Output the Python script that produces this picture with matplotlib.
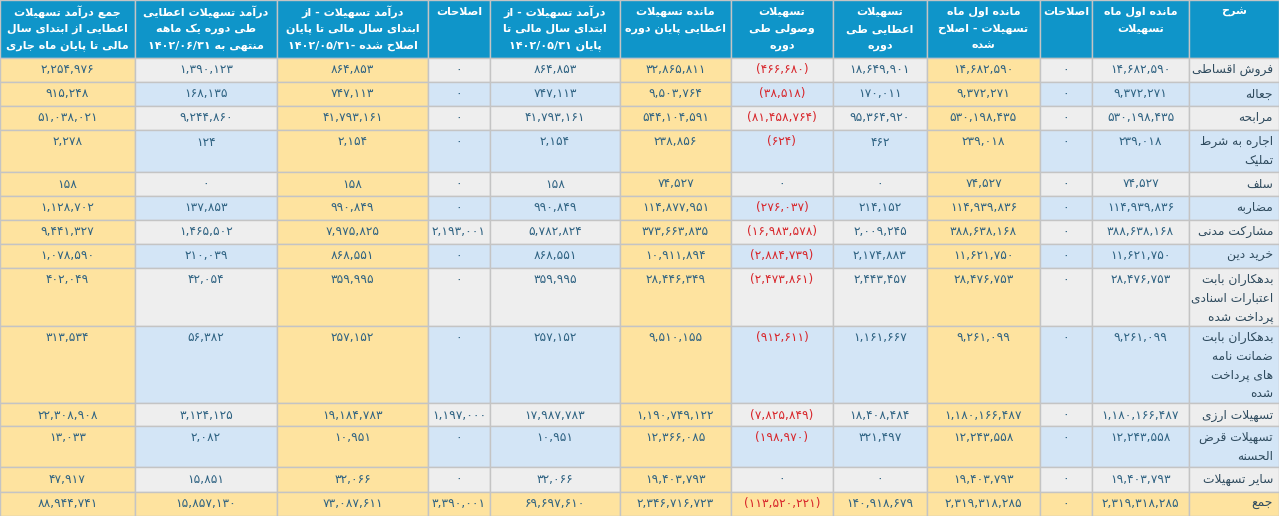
import re
import matplotlib
matplotlib.use("Agg")
import matplotlib.pyplot as plt
from matplotlib.patches import Rectangle

# ---------------- data ----------------
row_labels = [
    ["فروش اقساطی"], ["جعاله"], ["مرابحه"], ["اجاره به شرط", "تملیک"], ["سلف"],
    ["مضاربه"], ["مشارکت مدنی"], ["خرید دین"],
    ["بدهکاران بابت", "اعتبارات اسنادی", "پرداخت شده"],
    ["بدهکاران بابت", "ضمانت نامه", "های پرداخت", "شده"],
    ["تسهیلات ارزی"], ["تسهیلات قرض", "الحسنه"], ["سایر تسهیلات"], ["جمع"],
]
begin_balance = [14682590, 9372271, 530198435, 239018, 74527, 114939836, 388638168, 11621750, 28476753, 9261099, 1180166487, 12243558, 19403793, 2319318285]
adjust_1 = [0]*14
begin_adjusted = [14682590, 9372271, 530198435, 239018, 74527, 114939836, 388638168, 11621750, 28476753, 9261099, 1180166487, 12243558, 19403793, 2319318285]
granted = [18649901, 170011, 95364920, 462, 0, 214152, 2009245, 2174883, 2443457, 1161667, 18408484, 321497, 0, 140918679]
collected = [-466680, -38518, -81458764, -624, 0, -276037, -16983578, -2884739, -2473861, -912611, -7825849, -198970, 0, -113520221]
end_balance = [32865811, 9503764, 544104591, 238856, 74527, 114877951, 373663835, 10911894, 28446349, 9510155, 1190749122, 12366085, 19403793, 2346716723]
income_to_0531 = [864853, 747113, 41793161, 2154, 158, 990849, 5782824, 868551, 359995, 257152, 17987783, 10951, 32066, 69697610]
adjust_2 = [0, 0, 0, 0, 0, 0, 2193001, 0, 0, 0, 1197000, 0, 0, 3390001]
income_adjusted = [864853, 747113, 41793161, 2154, 158, 990849, 7975825, 868551, 359995, 257152, 19184783, 10951, 32066, 73087611]
income_month = [1390123, 168135, 9244860, 124, 0, 137853, 1465502, 210039, 42054, 56382, 3124125, 2082, 15851, 15857130]
income_total = [2254976, 915248, 51038021, 2278, 158, 1128702, 9441327, 1078590, 402049, 313534, 22308908, 13033, 47917, 88944741]

headers = [  # left to right
    ["جمع درآمد تسهیلات", "اعطایی از ابتدای سال", "مالی تا پایان ماه جاری"],
    ["درآمد تسهیلات اعطایی", "طی دوره یک ماهه", "منتهی به ۱۴۰۲/۰۶/۳۱"],
    ["درآمد تسهیلات - از", "ابتدای سال مالی تا پایان", "اصلاح شده -۱۴۰۲/۰۵/۳۱"],
    ["اصلاحات"],
    ["درآمد تسهیلات - از", "ابتدای سال مالی تا", "پایان ۱۴۰۲/۰۵/۳۱"],
    ["مانده تسهیلات", "اعطایی پایان دوره"],
    ["تسهیلات", "وصولی طی", "دوره"],
    ["تسهیلات", "اعطایی طی", "دوره"],
    ["مانده اول ماه", "تسهیلات - اصلاح", "شده"],
    ["اصلاحات"],
    ["مانده اول ماه", "تسهیلات"],
    ["شرح"],
]
columns_lr = [income_total, income_month, income_adjusted, adjust_2, income_to_0531,
              end_balance, collected, granted, begin_adjusted, adjust_1, begin_balance]

# ---------------- layout ----------------
xb = [0, 135, 277, 428, 490, 620, 731, 833, 927, 1040, 1092, 1189, 1279]
yb = [0, 58, 82, 106, 130, 172, 196, 220, 244, 268, 326, 403, 426, 467, 492, 516]
yellow_cols = {0, 2, 5, 8}
C_YEL, C_GRY, C_BLU, C_HDR = "#fee39f", "#eeeeee", "#d3e5f6", "#0f95c9"
C_TXT, C_RED, C_LBL = "#2e6282", "#d8262b", "#2f4b5e"

# ---------------- arabic shaping ----------------
def q(a, b=None):
    return tuple(chr(a + i) for i in range(4 if b is None else 2))
F = {'ا': q(0xFE8D, 2), 'آ': q(0xFE81, 2), 'ب': q(0xFE8F), 'ت': q(0xFE95), 'ج': q(0xFE9D),
     'ح': q(0xFEA1), 'خ': q(0xFEA5), 'د': q(0xFEA9, 2), 'ر': q(0xFEAD, 2), 'ز': q(0xFEAF, 2),
     'س': q(0xFEB1), 'ش': q(0xFEB5), 'ص': q(0xFEB9), 'ض': q(0xFEBD), 'ط': q(0xFEC1),
     'ع': q(0xFEC9), 'ف': q(0xFED1), 'ق': q(0xFED5), 'ل': q(0xFEDD), 'م': q(0xFEE1),
     'ن': q(0xFEE5), 'ه': q(0xFEE9), 'و': q(0xFEED, 2), 'ي': q(0xFEF1), 'ك': q(0xFED9),
     'پ': q(0xFB56), 'ک': q(0xFB8E), 'گ': q(0xFB92), 'ی': q(0xFBFC), 'چ': q(0xFB7A)}

def shape(s):
    out = []
    i = 0
    while i < len(s):
        c = s[i]
        if c not in F:
            out.append(c); i += 1; continue
        prev = s[i-1] if i > 0 else ''
        pj = prev in F and len(F[prev]) == 4
        if c == 'ل' and i+1 < len(s) and s[i+1] in 'اآ':
            lig = {'ا': ('\uFEFB', '\uFEFC'), 'آ': ('\uFEF5', '\uFEF6')}[s[i+1]]
            out.append(lig[1] if pj else lig[0]); i += 2; continue
        nxt = s[i+1] if i+1 < len(s) else ''
        nj = len(F[c]) == 4 and nxt in F
        f = F[c]
        out.append(f[3] if pj and nj else f[1] if pj else f[2] if nj else f[0])
        i += 1
    return ''.join(out)

def vis(s):
    toks = re.findall(r'[۰-۹0-9/,]+|[^۰-۹0-9/,]+', shape(s))
    toks = toks[::-1]
    return ''.join(t if re.match(r'[۰-۹0-9/,]', t) else t[::-1] for t in toks)

PD = str.maketrans("0123456789", "۰۱۲۳۴۵۶۷۸۹")
def fmt(v):
    s = f"{abs(v):,}".translate(PD)
    return f"({s})" if v < 0 else s

# ---------------- draw ----------------
fig = plt.figure(figsize=(12.79, 5.16), dpi=100)
ax = fig.add_axes([0, 0, 1, 1])
ax.set_xlim(0, 1279); ax.set_ylim(516, 0); ax.axis("off")
FONT = "DejaVu Sans"
FS = 8.8

def rect(x0, y0, x1, y1, col):
    ax.add_patch(Rectangle((x0, y0), x1-x0, y1-y0, facecolor=col, edgecolor="#c4c4c4", linewidth=1))

# header
for c in range(12):
    rect(xb[c], yb[0], xb[c+1], yb[1], C_HDR)
    for k, line in enumerate(headers[c]):
        ax.text((xb[c]+xb[c+1])/2, 12 + k*17, vis(line), ha="center", va="center",
                color="white", fontsize=8.0, fontweight="bold", family=FONT)

n = len(row_labels)
for r in range(n):
    y0, y1 = yb[r+1], yb[r+2]
    last = r == n-1
    for c in range(12):
        if last or c in yellow_cols:
            col = C_YEL
        else:
            col = C_GRY if r % 2 == 0 else C_BLU
        rect(xb[c], y0, xb[c+1], y1, col)
        if c < 11:
            v = columns_lr[c][r]
            ax.text((xb[c]+xb[c+1])/2, y0 + 12, fmt(v), ha="center", va="center",
                    color=C_RED if v < 0 else C_TXT, fontsize=FS, family=FONT)
        else:
            for k, line in enumerate(row_labels[r]):
                ax.text(xb[12] - 6, y0 + 12 + k*18.5, vis(line), ha="right", va="center",
                        color=C_LBL, fontsize=8.8, family=FONT)

fig.savefig("out.png", dpi=100)
